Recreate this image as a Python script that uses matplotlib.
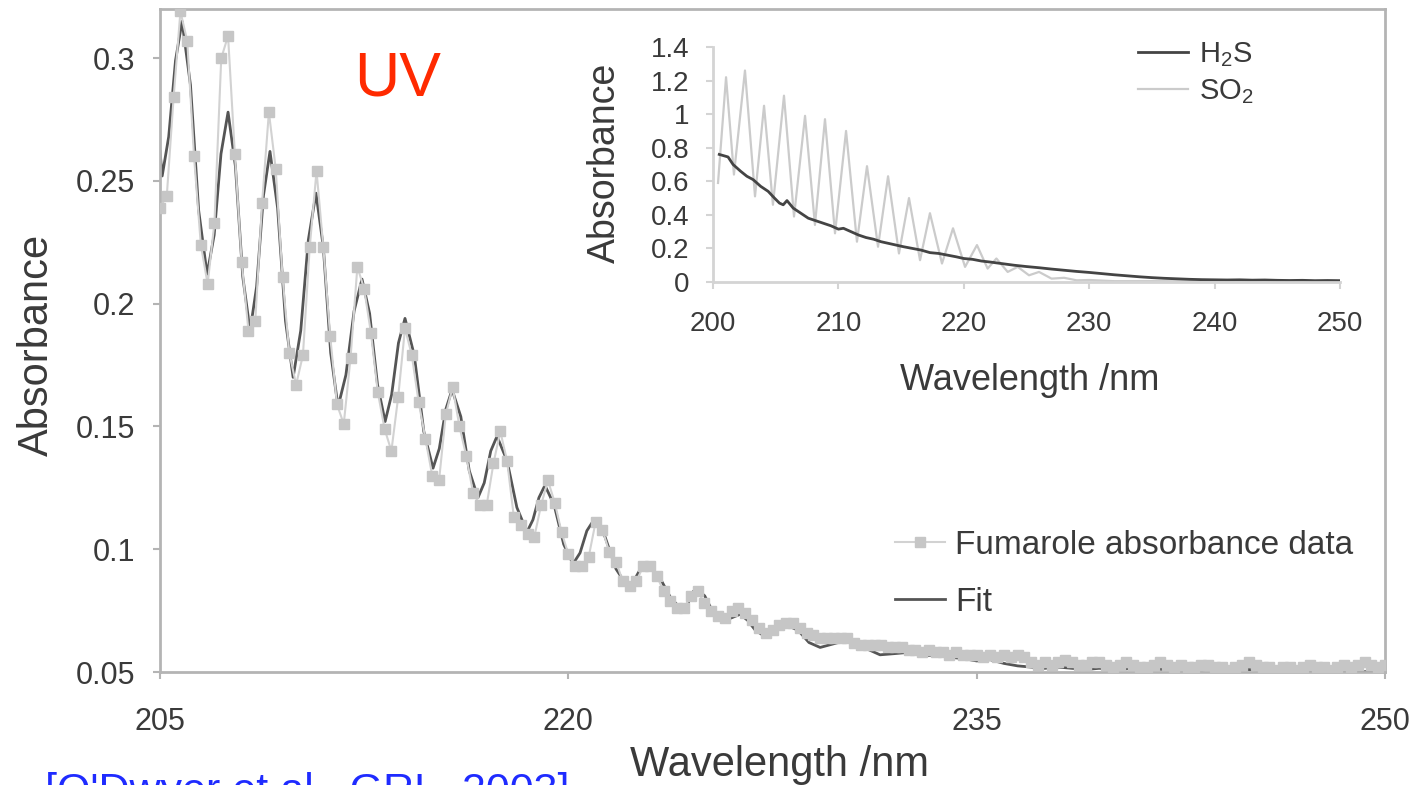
import numpy as np
import matplotlib

matplotlib.use("Agg")
import matplotlib.pyplot as plt

plt.rcParams["font.family"] = ["Liberation Sans", "DejaVu Sans"]
plt.rcParams["mathtext.default"] = "regular"

# fumarole absorbance data, sampled every 0.25 nm from 205 to 250 nm
data_abs = [
    0.239, 0.244, 0.284, 0.319, 0.307, 0.260, 0.224, 0.208, 0.233, 0.300,
    0.309, 0.261, 0.217, 0.189, 0.193, 0.241, 0.278, 0.255, 0.211, 0.180,
    0.167, 0.179, 0.223, 0.254, 0.223, 0.187, 0.159, 0.151, 0.178, 0.215,
    0.206, 0.188, 0.164, 0.149, 0.140, 0.162, 0.190, 0.179, 0.160, 0.145,
    0.130, 0.128, 0.155, 0.166, 0.150, 0.138, 0.123, 0.118, 0.118, 0.135,
    0.148, 0.136, 0.113, 0.110, 0.106, 0.105, 0.118, 0.128, 0.119, 0.107,
    0.098, 0.093, 0.093, 0.097, 0.111, 0.108, 0.099, 0.095, 0.087, 0.085,
    0.087, 0.093, 0.093, 0.089, 0.083, 0.079, 0.076, 0.076, 0.081, 0.083,
    0.078, 0.075, 0.073, 0.072, 0.075, 0.076, 0.074, 0.071, 0.068, 0.066,
    0.067, 0.069, 0.070, 0.070, 0.068, 0.066, 0.065, 0.064, 0.064, 0.064,
    0.064, 0.064, 0.062, 0.061, 0.061, 0.061, 0.061, 0.060, 0.060, 0.060,
    0.059, 0.059, 0.058, 0.059, 0.058, 0.058, 0.057, 0.058, 0.057, 0.057,
    0.057, 0.056, 0.057, 0.056, 0.057, 0.056, 0.057, 0.056, 0.054, 0.053,
    0.054, 0.053, 0.054, 0.055, 0.054, 0.053, 0.053, 0.054, 0.054, 0.053,
    0.052, 0.053, 0.054, 0.053, 0.052, 0.052, 0.053, 0.054, 0.053, 0.052,
    0.053, 0.052, 0.052, 0.053, 0.053, 0.052, 0.052, 0.051, 0.052, 0.053,
    0.054, 0.053, 0.052, 0.052, 0.051, 0.052, 0.052, 0.051, 0.052, 0.053,
    0.052, 0.052, 0.051, 0.052, 0.053, 0.052, 0.053, 0.054, 0.053, 0.052,
    0.053,
]
data_wl = np.linspace(205.0, 250.0, len(data_abs))

# fitted spectrum (read at peaks, troughs and in between)
fit_wl = [
    205.00, 205.08, 205.32, 205.57, 205.81, 206.12, 206.42, 206.73, 206.99, 207.24,
    207.50, 207.77, 208.04, 208.31, 208.55, 208.80, 209.04, 209.32, 209.61, 209.89,
    210.17, 210.45, 210.73, 211.00, 211.27, 211.54, 211.83, 212.13, 212.42, 212.70,
    212.99, 213.27, 213.51, 213.76, 214.00, 214.34, 214.69, 215.03, 215.26, 215.50,
    215.73, 216.05, 216.36, 216.68, 216.91, 217.15, 217.38, 217.75, 218.11, 218.48,
    218.70, 218.92, 219.14, 219.48, 219.83, 220.17, 220.43, 220.68, 220.94, 221.35,
    221.75, 222.16, 222.40, 222.65, 222.89, 223.33, 223.77, 224.21, 224.37, 224.53,
    224.69, 225.01, 225.33, 225.65, 225.98, 226.31, 226.59, 226.87, 227.15, 227.59,
    228.03, 228.44, 228.84, 229.25, 229.75, 230.24, 230.85, 231.45, 232.0, 232.5,
    233.0, 233.5, 234.0, 234.5, 235.0, 235.5, 236.0, 236.5, 237.0, 237.5,
    238.0, 238.5, 239.0, 239.5, 240.0, 241.0, 242.0, 243.0, 244.0, 245.0,
    246.0, 247.0, 248.0, 249.0, 250.0,
]
fit_abs = [
    0.262, 0.252, 0.268, 0.299, 0.315, 0.289, 0.238, 0.212, 0.228, 0.261,
    0.278, 0.256, 0.211, 0.189, 0.207, 0.244, 0.262, 0.239, 0.193, 0.170,
    0.189, 0.226, 0.245, 0.223, 0.180, 0.158, 0.171, 0.197, 0.210, 0.196,
    0.167, 0.152, 0.163, 0.184, 0.194, 0.179, 0.148, 0.133, 0.141, 0.157,
    0.165, 0.154, 0.132, 0.121, 0.127, 0.140, 0.146, 0.136, 0.117, 0.107,
    0.112, 0.121, 0.126, 0.118, 0.102, 0.094, 0.0985, 0.1075, 0.112, 0.105,
    0.092, 0.085, 0.087, 0.092, 0.094, 0.089, 0.080, 0.075, 0.077, 0.082,
    0.084, 0.081, 0.074, 0.071, 0.072, 0.0735, 0.071, 0.067, 0.065, 0.067,
    0.069, 0.067, 0.062, 0.060, 0.0615, 0.063, 0.060, 0.057, 0.0575, 0.058,
    0.0565, 0.057, 0.056, 0.0555, 0.0545, 0.055, 0.0535, 0.0525, 0.052, 0.0515,
    0.052, 0.0515, 0.051, 0.0515, 0.051, 0.0515, 0.051, 0.0505, 0.0515, 0.051,
    0.0505, 0.050, 0.0505, 0.050, 0.0505,
]

# inset: reference cross sections
so2_wl = [
    200.4, 201.04, 201.67, 202.55, 203.35, 204.07, 204.78, 205.66, 206.46, 207.34,
    208.13, 208.93, 209.73, 210.61, 211.48, 212.28, 213.16, 213.96, 214.83, 215.63,
    216.51, 217.30, 218.26, 219.14, 220.10, 221.05, 221.9, 222.6, 223.5, 224.3,
    225.2, 226.0, 227.0, 228.0, 229.0, 230.0, 232.0, 235.0, 240.0, 245.0, 250.0,
]
so2_abs = [
    0.59, 1.22, 0.64, 1.26, 0.51, 1.05, 0.46, 1.11, 0.39, 0.99,
    0.34, 0.97, 0.29, 0.90, 0.24, 0.69, 0.21, 0.63, 0.17, 0.50,
    0.13, 0.41, 0.11, 0.32, 0.09, 0.22, 0.08, 0.14, 0.06, 0.09,
    0.04, 0.06, 0.02, 0.025, 0.01, 0.012, 0.005, 0.005, 0.003, 0.003, 0.003,
]
h2s_wl = [
    200.5, 201.2, 201.6, 202.2, 202.7, 203.2, 203.8, 204.4, 204.9, 205.3,
    205.6, 205.9, 206.4, 207.0, 207.6, 208.2, 208.8, 209.4, 210.0, 210.4,
    211.0, 211.6, 212.2, 212.8, 213.4, 214.0, 214.6, 215.2, 215.9, 216.6,
    217.3, 218.0, 218.7, 219.4, 220.0, 220.7, 221.4, 222.2, 223.0, 224.0,
    225.0, 226.0, 227.0, 228.0, 229.0, 230.0, 231.0, 232.0, 233.0, 234.0,
    235.0, 236.0, 237.0, 238.0, 239.0, 240.0, 241.0, 242.0, 243.0, 244.0,
    245.0, 246.0, 247.0, 248.0, 249.0, 250.0,
]
h2s_abs = [
    0.76, 0.745, 0.70, 0.66, 0.63, 0.61, 0.57, 0.54, 0.50, 0.47,
    0.46, 0.485, 0.44, 0.41, 0.38, 0.365, 0.35, 0.335, 0.315, 0.32,
    0.30, 0.28, 0.265, 0.255, 0.24, 0.23, 0.22, 0.21, 0.20, 0.19,
    0.175, 0.17, 0.16, 0.15, 0.14, 0.135, 0.125, 0.118, 0.11, 0.10,
    0.092, 0.085, 0.077, 0.07, 0.063, 0.057, 0.05, 0.043, 0.037, 0.031,
    0.026, 0.022, 0.019, 0.016, 0.014, 0.013, 0.012, 0.013, 0.011, 0.012,
    0.010, 0.009, 0.010, 0.008, 0.009, 0.008,
]

main_xticks = [205, 220, 235, 250]
main_yticks = [0.05, 0.1, 0.15, 0.2, 0.25, 0.3]
main_ylabels = ["0.05", "0.1", "0.15", "0.2", "0.25", "0.3"]
inset_xticks = [200, 210, 220, 230, 240, 250]
inset_yticks = [0, 0.2, 0.4, 0.6, 0.8, 1.0, 1.2, 1.4]
inset_ylabels = ["0", "0.2", "0.4", "0.6", "0.8", "1", "1.2", "1.4"]

W, H = 1417, 785
SPINE = "#b4b4b4"
TXT = "#3a3a3a"

fig = plt.figure(figsize=(W / 100, H / 100), dpi=100)
fig.patch.set_facecolor("white")


def px_rect(x0, y0, x1, y1):
    """Pixel box (top-left origin) -> figure fraction rect."""
    return [x0 / W, (H - y1) / H, (x1 - x0) / W, (y1 - y0) / H]


# main panel
ax = fig.add_axes(px_rect(160, 9, 1385, 672))
ax.plot(fit_wl, fit_abs, color="#555555", lw=2.0, zorder=2, label="Fit")
ax.plot(data_wl, data_abs, color="#d2d2d2", lw=1.5, marker="s", ms=7.5,
        mfc="#c6c6c6", mec="#c6c6c6", zorder=3, label="Fumarole absorbance data")
ax.set_xlim(205, 250)
ax.set_ylim(0.05, 0.32)
ax.set_xticks(main_xticks)
ax.set_xticklabels([str(t) for t in main_xticks])
ax.set_yticks(main_yticks)
ax.set_yticklabels(main_ylabels)
for s in ax.spines.values():
    s.set_color(SPINE)
    s.set_linewidth(2)
ax.tick_params(axis="both", direction="out", length=5, width=1.5, color=SPINE,
               labelsize=22, labelcolor=TXT)
ax.tick_params(axis="y", pad=13)
ax.tick_params(axis="x", pad=20)

h, l = ax.get_legend_handles_labels()
ax.legend(h[::-1], l[::-1], loc="upper left", bbox_to_anchor=(895 / W, (H - 530) / H),
          bbox_transform=fig.transFigure, frameon=False, fontsize=24, borderpad=0,
          handlelength=1.5, handletextpad=0.3, labelspacing=0.78, borderaxespad=0,
          labelcolor=TXT)

fig.text(780 / W, (H - 776) / H, "Wavelength /nm", ha="center", va="baseline",
         fontsize=30, color=TXT)
fig.text(37 / W, (H - 345) / H, "Absorbance", ha="center", va="center",
         rotation=90, fontsize=30, color=TXT)
fig.text(354 / W, (H - 95) / H, "UV", ha="left", va="baseline", fontsize=45,
         color="#ff2a00")

# inset panel
axi = fig.add_axes(px_rect(713, 47, 1340, 282))
axi.plot(so2_wl, so2_abs, color="#cbcbcb", lw=1.6, label="SO$_2$")
axi.plot(h2s_wl, h2s_abs, color="#444444", lw=2.0, label="H$_2$S")
axi.set_xlim(200, 250)
axi.set_ylim(0, 1.4)
axi.set_xticks(inset_xticks)
axi.set_xticklabels([str(t) for t in inset_xticks])
axi.set_yticks(inset_yticks)
axi.set_yticklabels(inset_ylabels)
axi.spines["top"].set_visible(False)
axi.spines["right"].set_visible(False)
for k in ("left", "bottom"):
    axi.spines[k].set_color("#d4d4d4")
    axi.spines[k].set_linewidth(2)
axi.patch.set_alpha(0)
axi.tick_params(axis="both", direction="out", length=5, width=1.5, color="#d4d4d4",
                labelsize=20, labelcolor=TXT)
axi.tick_params(axis="y", pad=12)
axi.tick_params(axis="x", pad=16)

hi, li = axi.get_legend_handles_labels()
axi.legend(hi[::-1], li[::-1], loc="upper left", bbox_to_anchor=(1138 / W, (H - 40) / H),
           bbox_transform=fig.transFigure, frameon=False, fontsize=21, borderpad=0,
           handlelength=1.7, handletextpad=0.4, labelspacing=0.3, borderaxespad=0,
           labelcolor=TXT)

fig.text(1030 / W, (H - 390) / H, "Wavelength /nm", ha="center", va="baseline",
         fontsize=26, color=TXT)
fig.text(605 / W, (H - 163) / H, "Absorbance", ha="center", va="center",
         rotation=90, fontsize=27, color=TXT)

# citation, cut by the bottom edge as in the slide
fig.text(45 / W, (H - 803) / H, "[O'Dwyer et al., GRL, 2003]", ha="left",
         va="baseline", fontsize=31, color="#1f2bff")

fig.savefig("out.png", dpi=100)
